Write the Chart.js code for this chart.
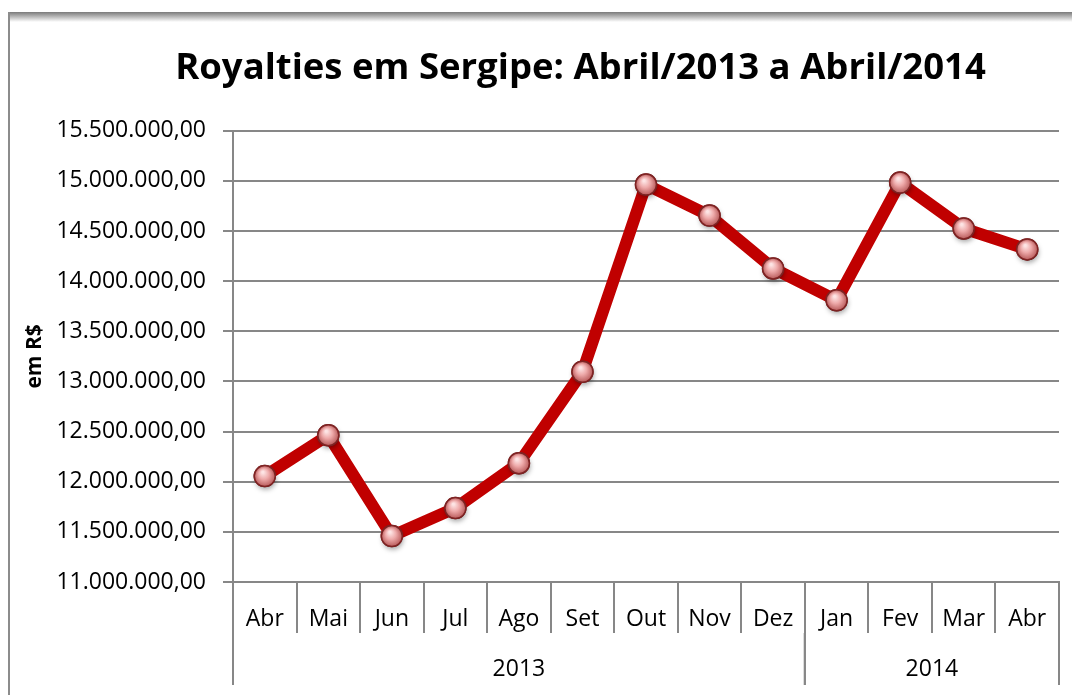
<!DOCTYPE html>
<html>
<head>
<meta charset="utf-8">
<title>Royalties em Sergipe</title>
<script src="https://cdn.jsdelivr.net/npm/chart.js@4.4.0/dist/chart.umd.min.js"></script>
<style>
  html, body { margin: 0; padding: 0; background: #fff; }
  #wrap { position: relative; width: 1072px; height: 695px; overflow: hidden; }
  #frame { position: absolute; left: 8px; top: 12px; right: 0; bottom: 0; border-left: 2px solid #8c8c8c; }
  #frame:before { content: ''; position: absolute; left: 0; right: 0; top: 0; height: 10px; background: linear-gradient(#7a7a7a, #fff); }
  canvas { position: absolute; left: 0; top: 0; }
</style>
</head>
<body>
<div id="wrap">
  <div id="frame"></div>
  <canvas id="royaltiesChart" width="1072" height="695"></canvas>
</div>
<script>
// data
const months = ['Abr', 'Mai', 'Jun', 'Jul', 'Ago', 'Set', 'Out', 'Nov', 'Dez', 'Jan', 'Fev', 'Mar', 'Abr'];
const years = ['2013', '2014'];
const monthsPerYear = [9, 4];
const royalties = [12056000, 12464000, 11458000, 11737000, 12185000, 13097000, 14964000,
                   14655000, 14127000, 13809000, 14984000, 14526000, 14317000];
const yMin = 11000000;
const yMax = 15500000;
const yStep = 500000;

const FONT = 'Open Sans';
const GRID = '#878787';

function formatBR(v) {
  const parts = Math.round(v).toString().replace(/\B(?=(\d{3})+(?!\d))/g, '.');
  return parts + ',00';
}

// the title sits a bit right of the canvas centre in the original
const titleShift = {
  id: 'titleShift',
  afterLayout(chart) {
    if (chart.titleBlock) {
      chart.titleBlock.left += 41;
      chart.titleBlock.right += 41;
    }
  }
};

// year group row under the month labels
const yearRow = {
  id: 'yearRow',
  afterDraw(chart) {
    const xs = chart.scales.x;
    const ctx = chart.ctx;
    const half = xs.width / months.length / 2;
    const top = xs.top + 51;
    const bottom = xs.bottom;
    ctx.save();
    ctx.strokeStyle = GRID;
    ctx.lineWidth = 2;
    ctx.fillStyle = '#000';
    ctx.font = '23px "' + FONT + '"';
    ctx.textAlign = 'center';
    ctx.textBaseline = 'middle';
    let start = 0;
    years.forEach((yr, i) => {
      const left = xs.getPixelForValue(start) - half;
      const right = xs.getPixelForValue(start + monthsPerYear[i] - 1) + half;
      ctx.beginPath();
      ctx.moveTo(left, top); ctx.lineTo(left, bottom);
      ctx.moveTo(right, top); ctx.lineTo(right, bottom);
      ctx.stroke();
      ctx.fillText(yr, (left + right) / 2, xs.top + 87);
      start += monthsPerYear[i];
    });
    ctx.restore();
  }
};

// glossy shading on the markers
const glossyPoints = {
  id: 'glossyPoints',
  afterDatasetsDraw(chart) {
    const ctx = chart.ctx;
    const meta = chart.getDatasetMeta(0);
    meta.data.forEach(pt => {
      const r = 10.5;
      ctx.save();
      ctx.shadowColor = 'rgba(0,0,0,0.35)';
      ctx.shadowBlur = 5;
      ctx.shadowOffsetX = 1;
      ctx.shadowOffsetY = 3;
      const g = ctx.createRadialGradient(pt.x - 2, pt.y - 4, 1, pt.x, pt.y, r);
      g.addColorStop(0, '#fde4e4');
      g.addColorStop(0.45, '#eeaaaa');
      g.addColorStop(1, '#b85a5a');
      ctx.beginPath();
      ctx.arc(pt.x, pt.y, r, 0, Math.PI * 2);
      ctx.fillStyle = g;
      ctx.fill();
      ctx.shadowColor = 'transparent';
      ctx.lineWidth = 1.5;
      ctx.strokeStyle = '#7e2323';
      ctx.stroke();
      ctx.restore();
    });
  }
};

new Chart(document.getElementById('royaltiesChart').getContext('2d'), {
  type: 'line',
  data: {
    labels: months,
    datasets: [{
      label: 'Royalties',
      data: royalties,
      borderColor: '#c00000',
      borderWidth: 12,
      borderJoinStyle: 'round',
      borderCapStyle: 'round',
      tension: 0,
      pointRadius: 10.5,
      pointBackgroundColor: '#e8a0a0',
      pointBorderColor: '#7e2323',
      pointBorderWidth: 1.5
    }]
  },
  options: {
    responsive: false,
    animation: false,
    layout: { padding: { left: 20, right: 13, top: 12, bottom: 10 } },
    plugins: {
      legend: { display: false },
      tooltip: { enabled: false },
      title: {
        display: true,
        text: 'Royalties em Sergipe: Abril/2013 a Abril/2014',
        color: '#000',
        font: { family: FONT, size: 36.5, weight: 'bold' },
        padding: { top: 35, bottom: 40 }
      }
    },
    scales: {
      x: {
        offset: true,
        grid: { drawOnChartArea: false, offset: true, color: GRID, lineWidth: 2, tickLength: 51 },
        border: { color: GRID, width: 2 },
        ticks: { color: '#000', font: { family: FONT, size: 23 }, padding: -27, maxRotation: 0, autoSkip: false },
        afterFit(scale) { scale.height = 103; }
      },
      y: {
        min: yMin,
        max: yMax,
        grid: { color: GRID, lineWidth: 2, tickLength: 10 },
        border: { color: GRID, width: 2 },
        ticks: {
          stepSize: yStep,
          color: '#000',
          padding: 17,
          font: { family: FONT, size: 23 },
          callback: v => formatBR(v)
        },
        title: {
          display: true,
          text: 'em R$',
          color: '#000',
          font: { family: FONT, size: 21, weight: 'bold' },
          padding: { top: 2, bottom: 0 }
        },
        afterFit(scale) { scale.width = 213; }
      }
    }
  },
  plugins: [titleShift, yearRow, glossyPoints]
});
</script>
</body>
</html>
